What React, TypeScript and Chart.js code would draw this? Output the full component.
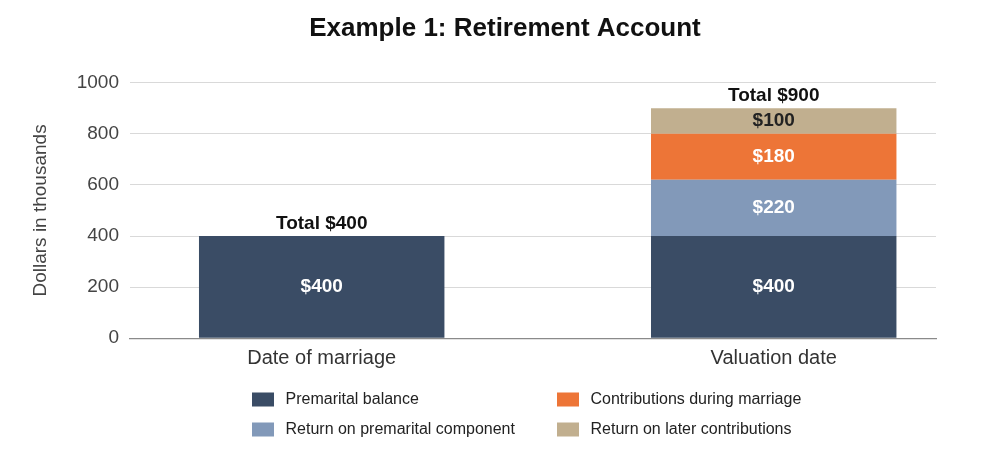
import React, { useEffect, useRef } from "react";
import { Chart, registerables } from "chart.js";

Chart.register(...registerables);

const categories = ["Date of marriage", "Valuation date"];
const premaritalBalance = [400, 400];
const returnOnPremarital = [0, 220];
const contributionsDuringMarriage = [0, 180];
const returnOnLaterContributions = [0, 100];

const seriesNames = [
  "Premarital balance",
  "Return on premarital component",
  "Contributions during marriage",
  "Return on later contributions",
];
const seriesValues = [
  premaritalBalance,
  returnOnPremarital,
  contributionsDuringMarriage,
  returnOnLaterContributions,
];
const seriesColors = ["#3a4c65", "#8299b9", "#ed7537", "#c1af8f"];
const labelColors = ["#ffffff", "#ffffff", "#ffffff", "#222222"];

const yMin = 0;
const yMax = 1000;
const yStep = 200;

const titleText = "Example 1: Retirement Account";
const yAxisTitle = "Dollars in thousands";

const FONT = "'Liberation Sans', Arial, Helvetica, sans-serif";

const valueLabelPlugin = {
  id: "valueLabels",
  afterDatasetsDraw(chart: any) {
    const ctx = chart.ctx;
    ctx.save();
    ctx.textAlign = "center";
    ctx.textBaseline = "middle";
    ctx.font = `bold 19px ${FONT}`;
    chart.data.datasets.forEach((ds: any, i: number) => {
      const meta = chart.getDatasetMeta(i);
      meta.data.forEach((el: any, j: number) => {
        const v = seriesValues[i][j];
        if (!v) return;
        const { x, y, base } = el.getProps(["x", "y", "base"], true);
        ctx.fillStyle = labelColors[i];
        ctx.fillText("$" + v, x, (y + base) / 2);
      });
    });
    const yScale = chart.scales.y;
    const xScale = chart.scales.x;
    ctx.fillStyle = "#111111";
    categories.forEach((_, j) => {
      const total = seriesValues.reduce((s, arr) => s + (arr[j] || 0), 0);
      const top = yScale.getPixelForValue(total);
      const x = xScale.getPixelForValue(j);
      ctx.fillText("Total $" + total, x, top - 12);
    });
    ctx.restore();
  },
};

const legendPlugin = {
  id: "gridLegend",
  afterDraw(chart: any) {
    const ctx = chart.ctx;
    ctx.save();
    const colX = [252, 557];
    const rowY = [399.5, 429.5];
    ctx.font = `16px ${FONT}`;
    ctx.textBaseline = "middle";
    ctx.textAlign = "left";
    chart.data.datasets.forEach((ds: any, i: number) => {
      const col = Math.floor(i / 2);
      const row = i % 2;
      const x = colX[col];
      const y = rowY[row];
      ctx.fillStyle = ds.backgroundColor;
      ctx.fillRect(x, y - 7, 22, 14);
      ctx.fillStyle = "#222222";
      ctx.fillText(ds.label, x + 33.5, y + 0.5);
    });
    ctx.restore();
  },
};

export default function App() {
  const canvasRef = useRef<HTMLCanvasElement | null>(null);

  useEffect(() => {
    if (!canvasRef.current) return;
    const chart = new Chart(canvasRef.current, {
      type: "bar",
      data: {
        datasets: seriesNames.map((name, i) => ({
          label: name,
          data: seriesValues[i].map((v, j) => ({ x: j, y: v })),
          backgroundColor: seriesColors[i],
          borderWidth: 0,
          barPercentage: 0.543,
          categoryPercentage: 1,
        })),
      },
      options: {
        responsive: false,
        animation: false,
        devicePixelRatio: 1,
        layout: { padding: { left: 11, right: 0, top: 0, bottom: 86.8 } },
        plugins: {
          legend: { display: false },
          tooltip: { enabled: false },
          title: {
            display: true,
            text: titleText,
            color: "#111111",
            font: { family: FONT, size: 26, weight: "bold" },
            padding: { top: 13.5, bottom: 38 },
          },
        },
        scales: {
          x: {
            type: "linear",
            stacked: true,
            offset: false,
            bounds: "data",
            grace: 0,
            min: -0.4241,
            max: 1.359,
            grid: { display: false, drawTicks: false },
            border: { display: true, color: "#8a8a8a", width: 1.2 },
            afterBuildTicks: (scale: any) => {
              scale.ticks = categories.map((_, i) => ({ value: i }));
            },
            ticks: {
              autoSkip: false,
              maxRotation: 0,
              padding: 8,
              color: "#333333",
              font: { family: FONT, size: 20 },
              callback: (value: any) => categories[value] ?? "",
            },
          },
          y: {
            stacked: true,
            min: yMin,
            max: yMax,
            afterFit: (scale: any) => {
              scale.width = 119;
            },
            grid: { color: "#d9d9d9", lineWidth: 1, drawTicks: false },
            border: { display: false },
            ticks: {
              stepSize: yStep,
              padding: 11,
              color: "#444444",
              font: { family: FONT, size: 19 },
              callback: (value: any) => String(value),
            },
            title: {
              display: true,
              text: yAxisTitle,
              color: "#444444",
              font: { family: FONT, size: 19 },
              padding: { top: 18.6, bottom: 0 },
            },
          },
          yRight: {
            type: "linear",
            position: "right",
            display: true,
            afterFit: (scale: any) => {
              scale.width = 63;
            },
            grid: { display: false, drawTicks: false },
            border: { display: false },
            ticks: { display: false },
          },
        },
      },
      plugins: [valueLabelPlugin, legendPlugin],
    } as any);
    return () => chart.destroy();
  }, []);

  return (
    <div style={{ position: "fixed", left: 0, top: 0, width: 999, height: 465, background: "#ffffff" }}>
      <canvas ref={canvasRef} width={999} height={465} style={{ display: "block" }} />
    </div>
  );
}
